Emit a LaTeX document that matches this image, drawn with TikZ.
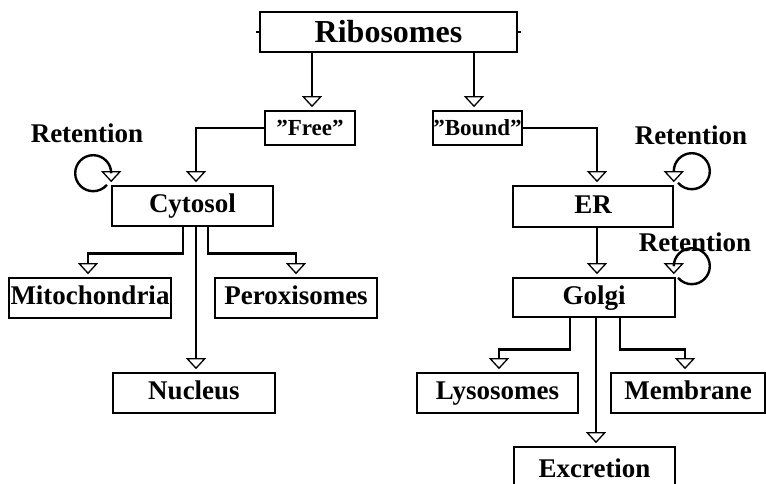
\documentclass[tikz,border=0pt]{standalone}
\usepackage{fontspec}
\setmainfont{Liberation Serif}
\usetikzlibrary{arrows.meta}
\begin{document}
\begin{tikzpicture}[x=1pt,y=1pt,
  box/.style={draw, line width=1.6pt, inner sep=0pt, minimum width=161pt, minimum height=40pt,
    text height=18pt, text depth=4pt, font=\bfseries\fontsize{27}{30}\selectfont},
  smallbox/.style={box, minimum height=34pt, text height=18pt, text depth=2pt,
    font=\bfseries\fontsize{23}{26}\selectfont},
  opentip/.tip={Triangle[open, width=20pt, length=11pt, line width=1.3pt]},
  conn/.style={line width=2.7pt, -opentip, shorten >=3pt},
  loopconn/.style={line width=2.4pt, opentip-, shorten <=3pt},
  lbl/.style={font=\bfseries\fontsize{27}{30}\selectfont, inner sep=0pt}]
\useasboundingbox (0,0) rectangle (766,484);

% boxes
\node[box, minimum width=257pt, text height=24pt, text depth=2pt,
  font=\bfseries\fontsize{32}{36}\selectfont] (rib) at (388.5,452) {Ribosomes};
\node[smallbox, minimum width=90pt] (free) at (310,356) {”Free”};
\node[smallbox, minimum width=89pt] (bound) at (477.5,356) {”Bound”};
\node[box] (cyt) at (192.5,278) {Cytosol};
\node[box, minimum width=162pt] (mito) at (90,186) {Mitochondria};
\node[box, minimum width=162pt] (perox) at (296,186) {Peroxisomes};
\node[box, minimum width=162pt] (nuc) at (194,91) {Nucleus};
\node[box, minimum width=160pt, minimum height=41pt] (er) at (593,277.5) {ER};
\node[box, minimum width=162pt, minimum height=39pt] (golgi) at (594,186.5) {Golgi};
\node[box] (lyso) at (497.5,91) {Lysosomes};
\node[box, minimum width=154pt] (memb) at (688,91) {Membrane};
\node[box, minimum height=44pt, text height=20pt, text depth=2pt] (excr) at (594.5,15) {Excretion};

% labels
\node[lbl] (ret1) at (87,351) {Retention};
\node[lbl] (ret2) at (691,349) {Retention};
\node[lbl] (ret3) at (695,242) {Retention};

% small ticks on the top box
\draw[line width=1.2pt] (rib.west) -- ++(-3,0);
\draw[line width=1.2pt] (rib.east) -- ++(3,0);

% ribosomes split
\draw[conn] ([xshift=2pt]free.north |- rib.south) -- ([xshift=2pt]free.north);
\draw[conn] ([xshift=-3.5pt]bound.north |- rib.south) -- ([xshift=-3.5pt]bound.north);

% free branch
\draw[conn] (free.west) -| ([xshift=3.5pt]cyt.north);
\draw[conn] ([xshift=-9.5pt]cyt.south) -- ++(0,-27) -| ([xshift=-2pt]mito.north);
\draw[conn] ([xshift=15.5pt]cyt.south) -- ++(0,-27) -| (perox.north);
\draw[conn] ([xshift=3.5pt]cyt.south) -- ([xshift=2pt]nuc.north);

% bound branch
\draw[conn] (bound.east) -| ([xshift=4pt]er.north);
\draw[conn] ([xshift=4pt]er.south) -- ([xshift=3pt]golgi.north);
\draw[conn] ([xshift=-24pt]golgi.south) -- ++(0,-32) -| ([xshift=1.5pt]lyso.north);
\draw[conn] ([xshift=26pt]golgi.south) -- ++(0,-32) -| ([xshift=-3pt]memb.north);
\draw[conn] ([xshift=2pt]golgi.south) -- ([xshift=1.5pt]excr.north);

% retention loops
\draw[loopconn] (cyt.north west) -- ++(0,12) arc[start angle=0, end angle=320, radius=18];
\draw[loopconn] (er.north east) -- ++(0,14) arc[start angle=180, end angle=-140, radius=18];
\draw[loopconn] ([xshift=-2pt]golgi.north east) -- ++(0,11) arc[start angle=180, end angle=-140, radius=18];
\end{tikzpicture}
\end{document}
